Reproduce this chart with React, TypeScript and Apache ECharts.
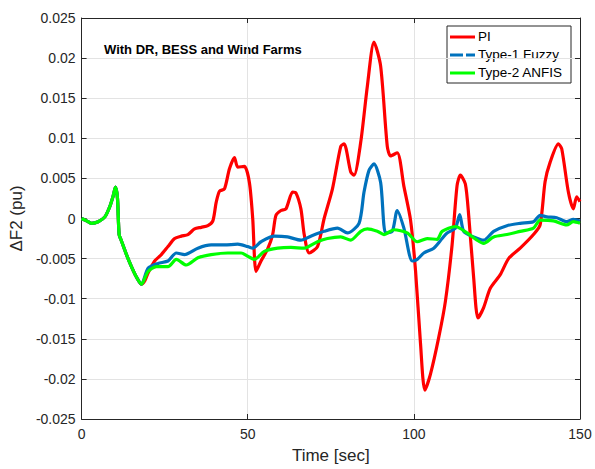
import React, { useEffect, useRef } from "react";
import * as echarts from "echarts";

const xTicks = [0, 50, 100, 150];
const yTickStep = 0.005;

const piT = [0, 1.5, 3, 5, 7, 8.5, 9.5, 10.2, 10.8, 11.3, 12, 13.5, 15, 16.5, 18, 19, 20, 22, 24, 26, 28, 30, 32, 34, 36, 38, 39.5, 40.5, 41.5, 43, 44.5, 46, 47, 49, 50.5, 51.5, 52.5, 54, 56, 57.5, 58.5, 60, 61.5, 63.5, 64.5, 66, 67, 68.5, 71, 73, 75.5, 78, 79, 81, 82, 84, 86, 88, 90, 92, 93, 95, 97, 99, 100.5, 102, 103.3, 105, 107.5, 109.5, 111.5, 113, 114, 115.5, 116.5, 118, 119.3, 121, 123, 126, 128.5, 132, 136, 138, 139.5, 141, 143.5, 144.5, 146.5, 148, 149, 150];
const piY = [0, -0.0003, -0.0006, -0.0004, 0.0002, 0.0015, 0.0028, 0.0039, 0.0025, -0.002, -0.0028, -0.0045, -0.006, -0.0073, -0.0082, -0.0078, -0.0068, -0.0053, -0.0045, -0.0035, -0.0025, -0.0022, -0.002, -0.0013, -0.0011, -0.0009, -0.0003, 0.002, 0.0034, 0.0037, 0.0062, 0.0076, 0.0064, 0.0065, 0.0045, 0, -0.0066, -0.0053, -0.0038, -0.002, 0.0004, 0.001, 0.0012, 0.0033, 0.0032, 0.0012, -0.002, -0.0043, -0.0035, 0, 0.0037, 0.009, 0.0093, 0.0058, 0.0054, 0.0095, 0.0165, 0.022, 0.019, 0.009, 0.0078, 0.0082, 0.004, -0.0002, -0.0065, -0.0156, -0.0214, -0.0194, -0.0148, -0.0103, -0.0033, 0.0041, 0.0054, 0.0043, 0.0004, -0.0074, -0.0124, -0.0111, -0.0087, -0.007, -0.005, -0.0037, -0.002, -0.0008, 0.0046, 0.007, 0.0093, 0.0087, 0.0033, 0.0012, 0.0027, 0.0021];

const fuzzyT = [0, 1.5, 3, 5, 7, 8.5, 9.5, 10.2, 10.8, 11.3, 12, 13.5, 15, 16.5, 18, 20, 23, 26, 28.5, 31, 35, 39, 43, 47, 50, 51.5, 54, 58, 62, 66, 69, 73, 77, 80, 83.5, 85, 86.5, 88, 90, 91.5, 93.5, 95, 97, 99.5, 101, 103, 106, 108.5, 110, 112.5, 113.8, 115, 118, 121, 124, 128, 132, 136, 138, 140, 143, 146, 148, 150];
const fuzzyY = [0, -0.0003, -0.0006, -0.0004, 0.0002, 0.0015, 0.0028, 0.0039, 0.0025, -0.002, -0.0028, -0.0045, -0.006, -0.0073, -0.0082, -0.0062, -0.0056, -0.0053, -0.0043, -0.0045, -0.0037, -0.0033, -0.0033, -0.0032, -0.0035, -0.0037, -0.0029, -0.0022, -0.0023, -0.0027, -0.0022, -0.0016, -0.0012, -0.0018, -0.0006, 0.0033, 0.006, 0.0068, 0.0045, -0.0018, -0.0016, 0.001, -0.0012, -0.0053, -0.0051, -0.0043, -0.0037, -0.0025, -0.0018, -0.0012, 0.0005, -0.0016, -0.0023, -0.0027, -0.0016, -0.0009, -0.0006, -0.0004, 0.0004, 0.0002, 0.0001, -0.0004, -0.0001, -0.0003];

const anfisT = [0, 1.5, 3, 5, 7, 8.5, 9.5, 10.2, 10.8, 11.3, 12, 13.5, 15, 16.5, 18, 20, 22.5, 26, 28.5, 31.5, 35, 39, 44, 48, 50, 52, 55, 59, 63, 67, 71, 74, 78, 81, 84, 86, 89, 91, 94, 98, 101, 104, 107, 108.5, 112.5, 116, 119, 121, 124, 128, 132, 136, 138, 142, 146, 148, 150];
const anfisY = [0, -0.0003, -0.0006, -0.0004, 0.0002, 0.0015, 0.0028, 0.0039, 0.0025, -0.002, -0.0028, -0.0045, -0.006, -0.0073, -0.0082, -0.0066, -0.006, -0.006, -0.0051, -0.0058, -0.0049, -0.0045, -0.0043, -0.0043, -0.0047, -0.0051, -0.0041, -0.0037, -0.0036, -0.0037, -0.0029, -0.0025, -0.0023, -0.0027, -0.0016, -0.0013, -0.0016, -0.002, -0.0014, -0.0018, -0.0029, -0.0025, -0.0026, -0.0016, -0.001, -0.0018, -0.0027, -0.0031, -0.0023, -0.002, -0.0016, -0.0012, -0.0002, -0.0003, -0.0008, -0.0004, -0.0006];

const seriesNames = ["PI", "Type-1 Fuzzy", "Type-2 ANFIS"];
const seriesColors = ["#ff0000", "#0072bd", "#00ff00"];
const titleText = "With DR, BESS and Wind Farms";
const xName = "Time [sec]";
const yName = "ΔF2 (pu)";

const FONT = "'Liberation Sans', Arial, Helvetica, sans-serif";
const AX = "#262626";

function zip(t: number[], y: number[]) {
  return t.map((v, i) => [v, y[i]]);
}

export default function App() {
  const ref = useRef<HTMLDivElement>(null);
  useEffect(() => {
    if (!ref.current) return;
    const chart = echarts.init(ref.current, undefined, { renderer: "svg" });
    const fmt = (v: number) => {
      const r = parseFloat(v.toFixed(4));
      return r === 0 ? "0" : String(r);
    };
    const baseX = {
      type: "value" as const,
      min: xTicks[0],
      max: xTicks[xTicks.length - 1],
      interval: xTicks[1] - xTicks[0],
    };
    const baseY = {
      type: "value" as const,
      min: -0.025,
      max: 0.025,
      interval: yTickStep,
    };
    const datas = [zip(piT, piY), zip(fuzzyT, fuzzyY), zip(anfisT, anfisY)];
    const legendX = 447, legendY = 26, rowH = 18;
    const axisLine = { show: true, onZero: false, lineStyle: { color: AX, width: 1 } };
    const axisTick = { show: true, inside: true, length: 5, lineStyle: { color: AX } };
    chart.setOption({
      animation: false,
      backgroundColor: "#ffffff",
      grid: { left: 80, right: 15, top: 18, bottom: 46, containLabel: false },
      xAxis: [
        {
          ...baseX,
          position: "bottom",
          name: xName,
          nameLocation: "middle",
          nameGap: 28,
          nameTextStyle: { fontFamily: FONT, fontSize: 17, color: AX },
          axisLine,
          axisTick,
          axisLabel: { fontFamily: FONT, fontSize: 14, color: AX, margin: 8, formatter: fmt },
          splitLine: { show: true, lineStyle: { color: "#e3e3e3", width: 1 } },
        },
        {
          ...baseX,
          position: "top",
          axisLine,
          axisTick,
          axisLabel: { show: false },
          splitLine: { show: false },
        },
      ],
      yAxis: [
        {
          ...baseY,
          position: "left",
          name: yName,
          nameLocation: "middle",
          nameGap: 54,
          nameRotate: 90,
          nameTextStyle: { fontFamily: FONT, fontSize: 17, color: AX },
          axisLine,
          axisTick,
          axisLabel: { fontFamily: FONT, fontSize: 14, color: AX, margin: 6, formatter: fmt },
          splitLine: { show: true, lineStyle: { color: "#e3e3e3", width: 1 } },
        },
        {
          ...baseY,
          position: "right",
          axisLine,
          axisTick,
          axisLabel: { show: false },
          splitLine: { show: false },
        },
      ],
      series: datas.map((d, i) => ({
        name: seriesNames[i],
        type: "line",
        xAxisIndex: 0,
        yAxisIndex: 0,
        data: d,
        showSymbol: false,
        symbol: "none",
        smooth: 0.25,
        lineStyle: { color: seriesColors[i], width: 3.2 },
        itemStyle: { color: seriesColors[i] },
        z: 2 + i,
      })),
      graphic: [
        {
          type: "text",
          x: 104,
          y: 43,
          style: { text: titleText, font: `bold 13px ${FONT}`, fill: "#000" },
        },
        {
          type: "group",
          x: legendX,
          y: legendY,
          children: [
            {
              type: "rect",
              shape: { x: 0, y: 0, width: 124, height: 57 },
              style: { fill: "#fff", stroke: AX, lineWidth: 1 },
            },
            ...seriesNames.flatMap((n, i) => [
              {
                type: "line",
                shape: { x1: 3, y1: 11 + i * rowH, x2: 28, y2: 11 + i * rowH },
                style: {
                  stroke: seriesColors[i],
                  lineWidth: 3,
                  lineDash: i === 1 ? [13, 3] : undefined,
                },
              },
              {
                type: "text",
                x: 31,
                y: 3.5 + i * rowH,
                style: { text: n, font: `13.5px ${FONT}`, fill: "#000" },
              },
            ]),
          ],
        },
      ],
    });
    return () => chart.dispose();
  }, []);
  return (
    <div
      ref={ref}
      style={{ position: "absolute", left: 0, top: 0, width: 595, height: 469 }}
    />
  );
}
